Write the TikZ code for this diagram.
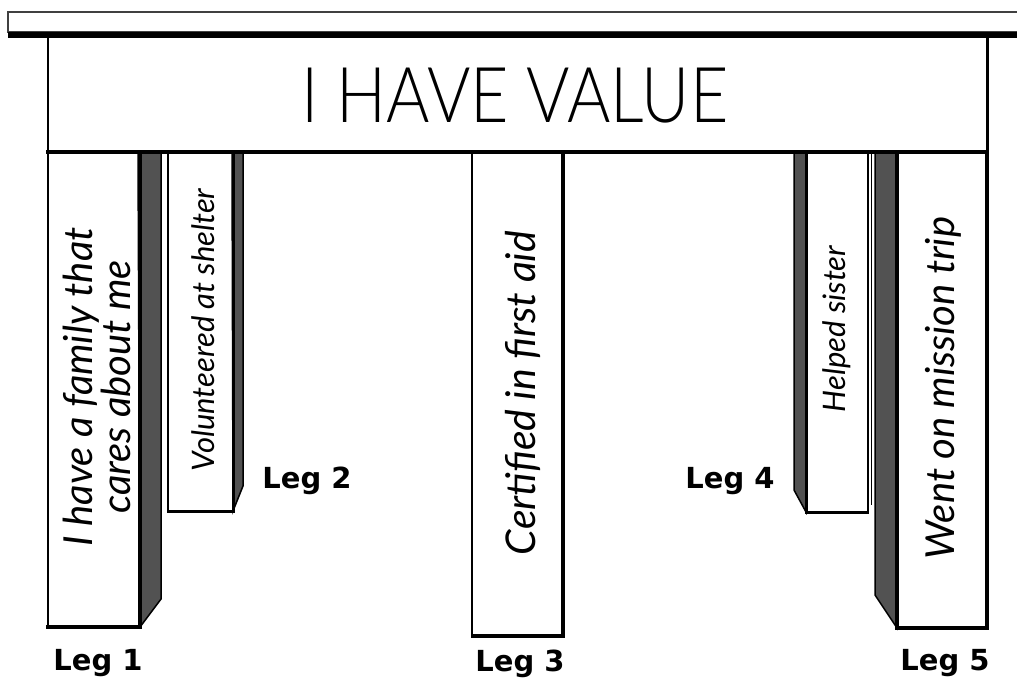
\documentclass[tikz,border=0pt]{standalone}
\usepackage{fontspec}
\setmainfont{DejaVu Sans}
\newfontfamily\titlefont{Lato Light}
\newfontfamily\handfont{Lato}

\begin{document}
\begin{tikzpicture}[x=1pt,y=-1pt,
		edge/.style={line width=1.5pt},
		heavy/.style={line width=4pt},
		side/.style={draw=black,line width=1.5pt,fill=black!68},
		note/.style={rotate=90,font=\handfont\itshape\fontsize{40}{36}\selectfont,align=center,inner sep=0pt},
		leglabel/.style={font=\bfseries\fontsize{29}{29}\selectfont,inner sep=0pt}]

		\useasboundingbox (0,0) rectangle (1017,679);

		% table top and apron
		\draw[edge,draw=black!75] (8,12) rectangle (1030,32);
		\draw[line width=6pt] (8,35) -- (1017,35);
		\draw[line width=2pt] (48,38) -- (48,152);
		\draw[line width=3pt] (987,38) -- (987,152);
		\node[font=\titlefont\fontsize{77}{77}\selectfont,inner sep=0pt]	(title)	at (515,96)	{\scalebox{0.86}[1]{I HAVE VALUE}};

		% leg 1
		\filldraw[side] (138,152) -- (161,152) -- (161,599) -- (140,627) -- cycle;
		\draw[edge] (48,152) rectangle (140,627);
		\draw[heavy] (140,152) -- (140,627) -- (46,627);
		\node[note]		(t1)	at (97,387)		{I have a family that\\cares about me};
		\node[leglabel]	(l1)	at (98,663)		{Leg 1};

		% leg 2
		\filldraw[side] (232,152) -- (243,152) -- (243,486) -- (233,511) -- cycle;
		\draw[edge] (168,152) rectangle (233,511);
		\draw[line width=3pt] (233,152) -- (233,511) -- (167,511);
		\node[note,font=\handfont\itshape\fontsize{31}{36}\selectfont]	(t2)	at (203,330)	{Volunteered at shelter};
		\node[leglabel]	(l2)	at (307,481)	{Leg 2};

		% leg 3
		\draw[edge] (472,152) rectangle (563,636);
		\draw[heavy] (563,152) -- (563,636) -- (471,636);
		\node[note,font=\handfont\itshape\fontsize{41}{36}\selectfont]	(t3)	at (523,393)	{Certified in first aid};
		\node[leglabel]	(l3)	at (520,664)	{Leg 3};

		% leg 4
		\filldraw[side] (806,152) -- (794,152) -- (794,490) -- (806,512) -- cycle;
		\draw[edge] (806,152) rectangle (868,512);
		\draw[line width=3pt] (806,152) -- (806,512) -- (869,512);
		\draw[line width=0.8pt] (871,152) -- (871,505);
		\node[note,font=\handfont\itshape\fontsize{31}{36}\selectfont]	(t4)	at (837,329)	{Helped sister};
		\node[leglabel]	(l4)	at (730,481)	{Leg 4};

		% leg 5
		\filldraw[side] (897,152) -- (875,152) -- (875,595) -- (897,628) -- cycle;
		\draw[edge] (897,152) rectangle (987,628);
		\draw[heavy] (987,152) -- (987,628) -- (897,628) -- (897,152);
		\node[note]		(t5)	at (943,388)	{Went on mission trip};
		\node[leglabel]	(l5)	at (945,663)	{Leg 5};

		% apron bottom edge over the leg tops
		\draw[line width=4pt] (46,152) -- (989,152);
	\end{tikzpicture}
\end{document}
